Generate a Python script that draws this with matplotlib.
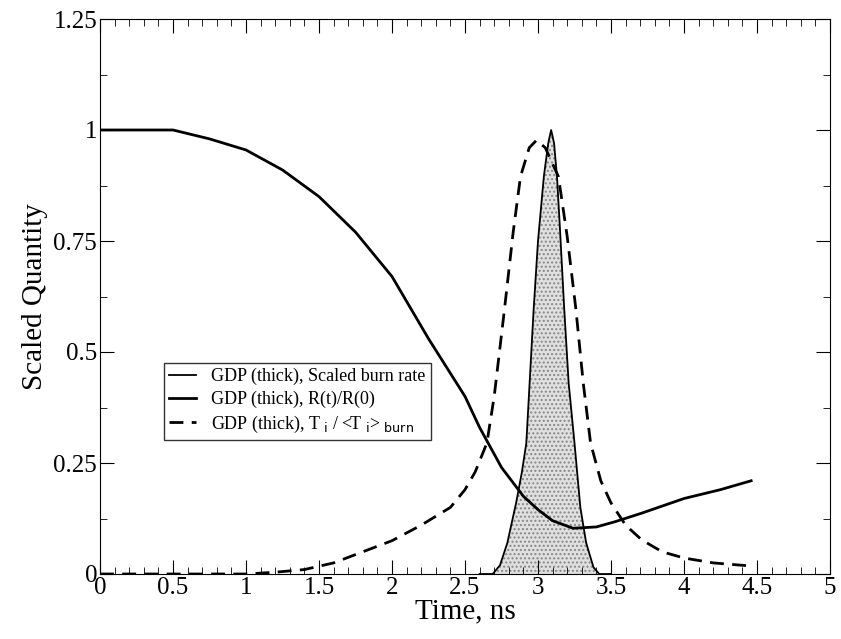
import numpy as np
import matplotlib.pyplot as plt

plt.rcParams['font.family'] = ['Liberation Serif', 'DejaVu Serif']

# burn rate (scaled)
t_burn = [2.6, 2.69, 2.74, 2.79, 2.85, 2.89, 2.92, 2.97, 3.0, 3.04, 3.07, 3.09, 3.11, 3.13, 3.15, 3.18, 3.21, 3.25, 3.29, 3.33, 3.38, 3.42, 3.5]
burn = [0.0, 0.0, 0.02, 0.07, 0.16, 0.23, 0.295, 0.595, 0.75, 0.895, 0.97, 1.0, 0.97, 0.895, 0.78, 0.595, 0.43, 0.295, 0.15, 0.07, 0.015, 0.0, 0.0]

# R(t)/R(0)
t_r = [0.0, 0.5, 0.75, 1.0, 1.25, 1.5, 1.75, 2.0, 2.25, 2.5, 2.6, 2.75, 2.9, 3.0, 3.1, 3.24, 3.4, 3.53, 3.71, 4.0, 4.25, 4.46]
r = [1.0, 1.0, 0.98, 0.955, 0.91, 0.85, 0.77, 0.67, 0.53, 0.4, 0.33, 0.24, 0.175, 0.145, 0.12, 0.103, 0.106, 0.118, 0.137, 0.17, 0.19, 0.21]

# T_i / <T_i>_burn
t_t = [0.0, 1.0, 1.2, 1.4, 1.6, 1.8, 2.0, 2.2, 2.4, 2.5, 2.57, 2.65, 2.7, 2.77, 2.83, 2.88, 2.94, 2.99, 3.05, 3.14, 3.2, 3.26, 3.31, 3.36, 3.43, 3.5, 3.6, 3.71, 3.85, 4.0, 4.2, 4.46]
temp = [0.0, 0.0, 0.004, 0.01, 0.025, 0.05, 0.075, 0.11, 0.15, 0.19, 0.23, 0.295, 0.4, 0.595, 0.77, 0.895, 0.96, 0.977, 0.96, 0.895, 0.76, 0.595, 0.43, 0.295, 0.21, 0.16, 0.11, 0.077, 0.05, 0.036, 0.025, 0.018]

fig = plt.figure(figsize=(8.41, 6.39), dpi=100)
ax = fig.add_axes([100/841, 1-574/639, (830-100)/841, (574-19)/639])

ax.fill_between(t_burn, burn, 0, facecolor='#e0e0e0', hatch='....', edgecolor='#888888', linewidth=0)
ax.plot(t_burn, burn, color='black', lw=1.3, label='GDP (thick), Scaled burn rate')
ax.plot(t_r, r, color='black', lw=2, label='GDP (thick), R(t)/R(0)')
ax.plot(t_t, temp, color='black', lw=2, ls=(0, (5, 3)),
        label=r'GDP (thick), T$_{\ \mathrm{i}}$ / <T$_{\ \mathrm{i}}$> $_{\mathrm{burn}}$')

ax.set_xlim(0, 5)
ax.set_ylim(0, 1.25)
ax.set_xticks(np.arange(0, 5.01, 0.5))
ax.set_xticklabels(['0', '0.5', '1', '1.5', '2', '2.5', '3', '3.5', '4', '4.5', '5'])
ax.set_xticks(np.arange(0, 5.01, 0.1), minor=True)
ax.set_yticks([0, 0.25, 0.5, 0.75, 1, 1.25])
ax.set_yticklabels(['0', '0.25', '0.5', '0.75', '1', '1.25'])
ax.set_yticks(np.arange(0, 1.26, 0.125), minor=True)
ax.tick_params(direction='in', which='both', top=True, right=True, labelsize=18, pad=2)
ax.tick_params(which='major', length=10)
ax.tick_params(which='minor', length=5)
ax.set_xlabel('Time, ns', fontsize=21, labelpad=0)
ax.set_ylabel('Scaled Quantity', fontsize=21)

leg = ax.legend(loc='lower left', bbox_to_anchor=(0.075, 0.225), fontsize=13,
                frameon=True, fancybox=False, edgecolor='black', handlelength=1.5,
                borderpad=0.3, labelspacing=0.3)
leg.get_frame().set_linewidth(1)

fig.savefig('out.png', dpi=100)
